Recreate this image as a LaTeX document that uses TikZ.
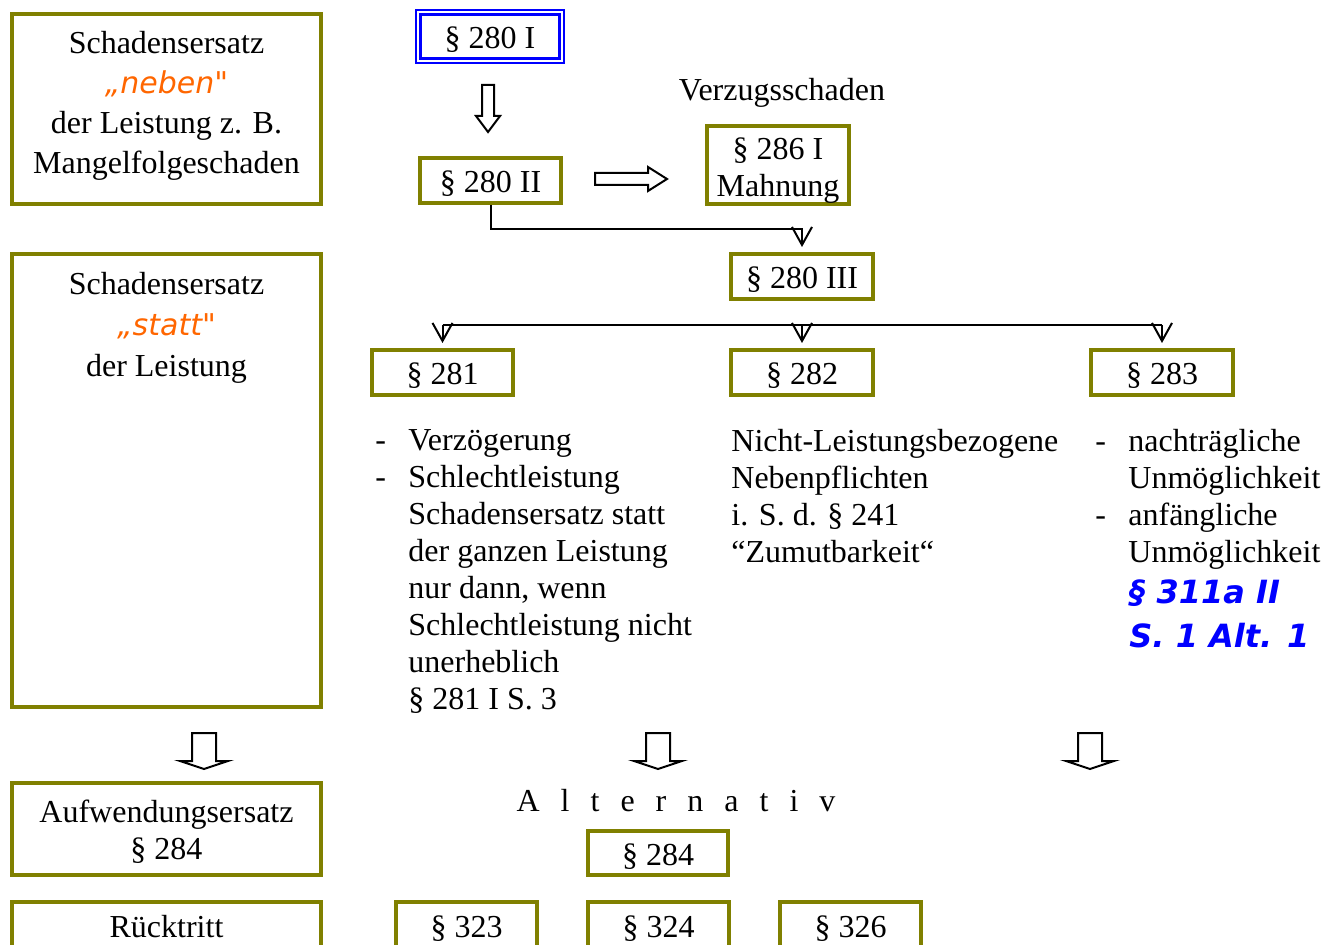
\documentclass[tikz,border=0pt]{standalone}
\usepackage{fontspec}
\setmainfont{Liberation Serif}
\newfontfamily\comicfont{DejaVu Sans}
\usepackage{tikz}
\usetikzlibrary{arrows.meta}
\definecolor{boxolive}{RGB}{128,128,0}
\definecolor{remarkorange}{RGB}{255,102,0}
\tikzset{
  olivebox/.style={draw=boxolive, line width=2pt, inner sep=0pt},
  onelinebox/.style={olivebox, text height=12.5pt, text depth=0pt},
  bluebox/.style={draw=blue, double, double distance=1pt, line width=1.2pt, inner sep=0pt,
    text height=12.5pt, text depth=0pt},
  plain/.style={inner sep=0pt},
  conn/.style={line width=1pt, -{Straight Barb[length=9pt, width=10pt, line width=1pt]}, shorten >=2.5pt},
  hollow/.style={draw=black, line width=1pt, fill=white, line join=miter}
}
\newcommand{\hollowdown}[6]{%
  \draw[hollow] ({#1-#5},#2) -- ({#1+#5},#2) -- ({#1+#5},#3) -- ({#1+#6},#3)
    -- (#1,#4) -- ({#1-#6},#3) -- ({#1-#5},#3) -- cycle;}
\begin{document}
\begin{tikzpicture}[x=0.5pt, y=-0.5pt, font=\fontsize{16}{18.5}\selectfont]
   \useasboundingbox (0,0) rectangle (1338,945);

   % left column
   \node[olivebox, minimum width=154.5pt, minimum height=95pt] (neben) at (166.5,109) {};
   \node[plain, align=center, font=\fontsize{16}{20}\selectfont] (nebentxt) at (166.5,106)
      {Schadensersatz\\{\comicfont\itshape\fontsize{15}{20}\selectfont\color{remarkorange}„neben"}\\der Leistung z. B.\\Mangelfolgeschaden};
   \node[olivebox, minimum width=154.5pt, minimum height=226.5pt] (statt) at (166.5,480.5) {};
   \node[plain, align=center, font=\fontsize{16}{20.5}\selectfont] (statttxt) at (166.5,327.5)
      {Schadensersatz\\{\comicfont\itshape\fontsize{15}{20}\selectfont\color{remarkorange}„statt"}\\der Leistung};
   \node[olivebox, minimum width=154.5pt, minimum height=46pt] (aufw) at (166.5,829) {};
   \node[plain, align=center] (aufwtxt) at (166.5,832) {Aufwendungsersatz\\§ 284};
   \node[onelinebox, minimum width=154.5pt, minimum height=23pt] (rueck) at (166.5,925) {Rücktritt};

   % upper chain
   \node[bluebox, minimum width=71.6pt, minimum height=24.1pt] (p280a) at (490,36.5) {§ 280 I};
   \node[onelinebox, minimum width=70.5pt, minimum height=22.5pt] (p280b) at (490.5,180.5) {§ 280 II};
   \node[plain] (verzug) at (782,93) {Verzugsschaden};
   \node[olivebox, minimum width=71pt, minimum height=39pt] (p286) at (778,165) {};
   \node[plain, align=center] (p286txt) at (778,170.5) {§ 286 I\\Mahnung};
   \node[onelinebox, minimum width=71pt, minimum height=22.5pt] (p280c) at (802,276.5) {§ 280 III};

   \hollowdown{488}{85}{116}{132}{6}{12}
   \draw[hollow] (595,173) -- (648,173) -- (648,167) -- (667,179) -- (648,191) -- (648,185) -- (595,185) -- cycle;
   \draw[conn] (p280b.south) -- ++(0,24) -| (p280c.north);

   % three cases
   \node[onelinebox, minimum width=70.5pt, minimum height=22.5pt] (p281) at (442.5,372.5) {§ 281};
   \node[onelinebox, minimum width=71pt, minimum height=22.5pt] (p282) at (802,372.5) {§ 282};
   \node[onelinebox, minimum width=71pt, minimum height=22.5pt] (p283) at (1162,372.5) {§ 283};
   \coordinate (fork) at (802,325);
   \draw[line width=1pt] (p281.north |- fork) -- (p283.north |- fork);
   \foreach \n in {p281,p282,p283}
      \draw[conn] (\n.north |- fork) -- (\n.north);

   \node[plain, anchor=north west, align=left] (text281) at (375,429)
      {\makebox[16.5pt][l]{-}Verzögerung\\
       \makebox[16.5pt][l]{-}Schlechtleistung\\
       \hspace*{16.5pt}Schadensersatz statt\\
       \hspace*{16.5pt}der ganzen Leistung\\
       \hspace*{16.5pt}nur dann, wenn\\
       \hspace*{16.5pt}Schlechtleistung nicht\\
       \hspace*{16.5pt}unerheblich\\
       \hspace*{16.5pt}§ 281 I S. 3};
   \node[plain, anchor=north west, align=left] (text282) at (731,429)
      {Nicht-Leistungsbezogene\\Nebenpflichten\\i. S. d. § 241\\“Zumutbarkeit“};
   \node[plain, anchor=north west, align=left] (text283) at (1095,429)
      {\makebox[16.5pt][l]{-}nachträgliche\\
       \hspace*{16.5pt}Unmöglichkeit\\
       \makebox[16.5pt][l]{-}anfängliche\\
       \hspace*{16.5pt}Unmöglichkeit};
   \node[plain, anchor=north west, align=left, text=blue,
      font=\comicfont\bfseries\itshape\fontsize{16}{22}\selectfont] (p311) at (1129,579)
      {§ 311a II\\S. 1 Alt. 1};

   % consequences
   \hollowdown{204}{733}{761}{769}{12}{24}
   \hollowdown{658}{733}{761}{769}{12}{24}
   \hollowdown{1090}{733}{761}{769}{12}{24}
   \node[plain] (alt) at (676,801) {\spaceskip=10.5pt A l t e r n a t i v};
   \node[onelinebox, minimum width=70pt, minimum height=22pt] (p284) at (658,853) {§ 284};
   \node[onelinebox, minimum width=70.5pt, minimum height=23pt] (p323) at (466.5,925) {§ 323};
   \node[onelinebox, minimum width=70.5pt, minimum height=23pt] (p324) at (658.5,925) {§ 324};
   \node[onelinebox, minimum width=70.5pt, minimum height=23pt] (p326) at (850.5,925) {§ 326};
\end{tikzpicture}
\end{document}
